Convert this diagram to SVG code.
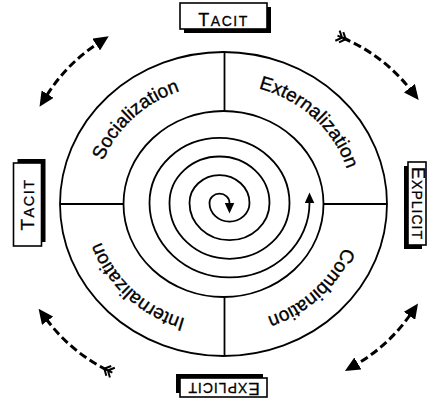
<svg xmlns="http://www.w3.org/2000/svg" width="438" height="405" viewBox="0 0 438 405">
<style>
.ln{fill:none;stroke:#000;stroke-width:1.8}
.dash{fill:none;stroke:#000;stroke-width:3;stroke-dasharray:8 4}
.lbl{font-family:"Liberation Sans",Arial,sans-serif;font-size:19px;fill:#000;stroke:#000;stroke-width:0.35}
.box{fill:#fff;stroke:#000;stroke-width:1.6}
.shadow{fill:#000}
.cap{font-family:"Liberation Sans",Arial,sans-serif;fill:#000;stroke:#000;stroke-width:0.3;letter-spacing:1.5px}
</style>
<defs>
<marker id="head" viewBox="0 -7 15 14" refX="1" refY="0" markerWidth="15" markerHeight="14" markerUnits="userSpaceOnUse" orient="auto-start-reverse"><path d="M0,-7 L15,0 L0,7 Z" fill="#000"/></marker>
<marker id="shead" viewBox="0 -5 11 10" refX="0.5" refY="0" markerWidth="11" markerHeight="10" markerUnits="userSpaceOnUse" orient="auto-start-reverse"><path d="M0,-5 L11,0 L0,5 Z" fill="#000"/></marker>
<marker id="tail" viewBox="-8 -7 16 14" refX="0" refY="0" markerWidth="16" markerHeight="14" markerUnits="userSpaceOnUse" orient="auto"><path d="M-6,-5.5 L-1,0 L-6,5.5 M-2,-5.5 L3,0 L-2,5.5 M-6,0 L3,0" fill="none" stroke="#000" stroke-width="2"/></marker>
<path id="qTL" d="M94.5,204 A129 120 0 0 1 223.5,84"/>
<path id="qTR" d="M223.5,84 A129 120 0 0 1 352.5,204"/>
<path id="qBR" d="M352.5,204 A129 120 0 0 1 223.5,324"/>
<path id="qBL" d="M223.5,324 A129 120 0 0 1 94.5,204"/>
</defs>
<rect width="438" height="405" fill="#fff"/>

<g id="wheel">
<ellipse class="ln" cx="223.5" cy="204" rx="163.5" ry="152" stroke-width="2"/>
<ellipse class="ln" cx="223.5" cy="204" rx="100" ry="93"/>
<line class="ln" x1="224.5" y1="52" x2="224.5" y2="111"/>
<line class="ln" x1="224.5" y1="297" x2="224.5" y2="356"/>
<line class="ln" x1="60" y1="204" x2="123.5" y2="204"/>
<line class="ln" x1="323.5" y1="204" x2="387" y2="204"/>
</g>

<g id="socialization"><text class="lbl"><textPath href="#qTL" startOffset="50%" text-anchor="middle">Socialization</textPath></text></g>
<g id="externalization"><text class="lbl"><textPath href="#qTR" startOffset="50%" text-anchor="middle">Externalization</textPath></text></g>
<g id="combination"><text class="lbl"><textPath href="#qBR" startOffset="50%" text-anchor="middle">Combination</textPath></text></g>
<g id="internalization"><text class="lbl"><textPath href="#qBL" startOffset="50%" text-anchor="middle">Internalization</textPath></text></g>

<g id="tacit-top" transform="translate(223.5,16)">
<rect class="shadow" x="-39.5" y="-9" width="87" height="26"/>
<rect class="box" x="-43.5" y="-13" width="87" height="26"/>
<text class="cap" x="0" y="10" text-anchor="middle"><tspan font-size="18">T</tspan><tspan font-size="14">ACIT</tspan></text>
</g>
<g id="tacit-left" transform="translate(27.5,204.5) rotate(-90)">
<rect class="shadow" x="-37.5" y="-10" width="83" height="28"/>
<rect class="box" x="-41.5" y="-14" width="83" height="28"/>
<text class="cap" x="0" y="6" text-anchor="middle"><tspan font-size="19">T</tspan><tspan font-size="14.5">ACIT</tspan></text>
</g>
<g id="explicit-right" transform="translate(417,203.5) rotate(90)">
<rect class="shadow" x="-37.5" y="-5" width="83" height="18"/>
<rect class="box" x="-41.5" y="-9" width="83" height="18"/>
<text class="cap" x="0" y="5.5" text-anchor="middle" style="letter-spacing:1px"><tspan font-size="18">E</tspan><tspan font-size="14">XPLICIT</tspan></text>
</g>
<g id="explicit-bottom" transform="translate(223.5,387.5) rotate(180)">
<rect class="shadow" x="-39.5" y="-5.5" width="87" height="19"/>
<rect class="box" x="-43.5" y="-9.5" width="87" height="19"/>
<text class="cap" x="0" y="5" text-anchor="middle" style="letter-spacing:1px"><tspan font-size="17">E</tspan><tspan font-size="14">XPLICIT</tspan></text>
</g>

<g id="connectors">
<path class="ln" d="M229.5,203 A10 9.3 0 0 0 209.5,203 A20 18.6 0 0 0 249.5,203 A30 27.9 0 0 0 189.5,203 A40 37.2 0 0 0 269.5,203 A50 46.5 0 0 0 169.5,203 A60 55.8 0 0 0 289.5,203 A70 65.1 0 0 0 149.5,203 A80 74.4 0 0 0 309.5,203" marker-start="url(#shead)" marker-end="url(#shead)"/>
<path class="dash" d="M47,95 A170 170 0 0 1 97,44" marker-start="url(#head)" marker-end="url(#head)"/>
<path class="dash" d="M343,38 A170 170 0 0 1 410,89" marker-start="url(#tail)" marker-end="url(#head)"/>
<path class="dash" d="M410,315 A170 170 0 0 1 357,364" marker-start="url(#head)" marker-end="url(#head)"/>
<path class="dash" d="M107,370 A170 170 0 0 1 47,320" marker-start="url(#tail)" marker-end="url(#head)"/>
</g>
</svg>
